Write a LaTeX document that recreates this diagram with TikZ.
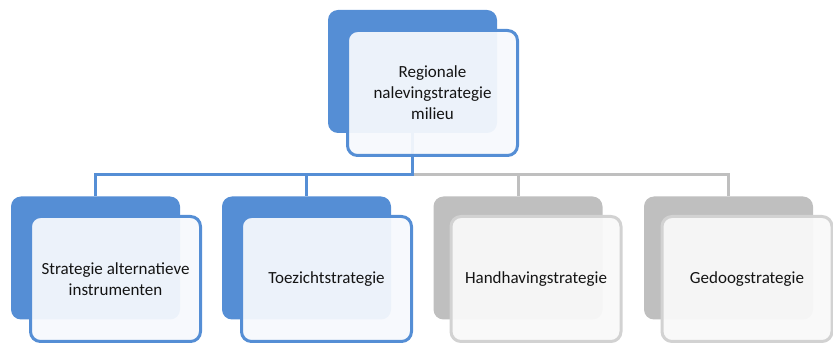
\documentclass[tikz,border=0pt]{standalone}
\usepackage{fontspec}
\setmainfont{Carlito}
\usetikzlibrary{backgrounds}
\definecolor{accblue}{RGB}{85,142,213}
\definecolor{accgray}{RGB}{191,191,191}
\definecolor{frontgray}{RGB}{210,210,210}
\definecolor{lightblue}{RGB}{246,249,253}
\definecolor{lightgray}{RGB}{249,249,249}
\definecolor{txt}{RGB}{20,20,20}
\tikzset{
  backbox/.style={rounded corners=10pt, minimum width=169pt, minimum height=123pt, inner sep=0pt, draw=none},
  bluebackbox/.style={backbox, fill=accblue},
  graybackbox/.style={backbox, fill=accgray},
  frontbox/.style={rounded corners=10pt, minimum width=170pt, minimum height=125pt, inner sep=2pt, line width=3pt, fill opacity=0.94, text opacity=1, align=center, text=txt, font=\fontsize{17}{21}\selectfont},
  bluefront/.style={frontbox, draw=accblue, fill=lightblue},
  grayfront/.style={frontbox, draw=frontgray, fill=lightgray},
  blueline/.style={draw=accblue, line width=3pt},
  grayline/.style={draw=accgray, line width=3pt}
}
\begin{document}
\begin{tikzpicture}[x=1pt,y=1pt]
\useasboundingbox (0,0) rectangle (833,-344);
% top
\node[bluebackbox] (tb) at (412.5,-71.5) {};
\node[bluefront] (tf) at (432.5,-93) {Regionale\\nalevingstrategie\\milieu};
% bottom back boxes
\node[bluebackbox] (b1) at (95.5,-258) {};
\node[bluefront] (f1) at (115.5,-279) {Strategie alternatieve\\instrumenten};
\node[bluebackbox] (b2) at (306.5,-258) {};
\node[bluefront] (f2) at (326.5,-279) {Toezichtstrategie};
\node[graybackbox] (b3) at (518,-258) {};
\node[grayfront] (f3) at (536,-279) {Handhavingstrategie};
\node[graybackbox] (b4) at (728.5,-258) {};
\node[grayfront] (f4) at (747,-279) {Gedoogstrategie};
\begin{pgfonlayer}{background}
\coordinate (j) at (tb.south |- 0,-175);
\draw[grayline] (j) -| (b3.north);
\draw[grayline] (j) -| (b4.north);
\draw[blueline] (tb.south) -- (j) -| (b1.north);
\draw[blueline] (j) -| (b2.north);
\end{pgfonlayer}
\end{tikzpicture}
\end{document}
